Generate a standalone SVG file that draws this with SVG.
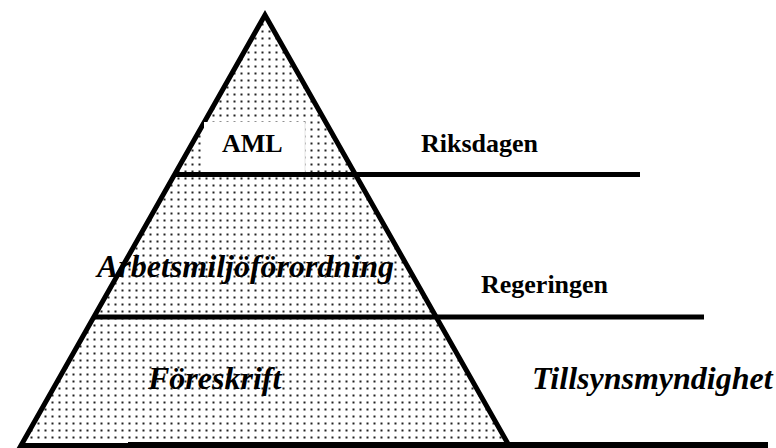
<svg xmlns="http://www.w3.org/2000/svg" width="776" height="448" viewBox="0 0 776 448">
  <defs>
    <pattern id="dots" patternUnits="userSpaceOnUse" width="7" height="7">
      <rect x="2.5" y="2.5" width="2" height="2" fill="#222"/>
    </pattern>
    <style>
      .lbl { font-family: 'Liberation Serif', 'Times New Roman', serif; font-weight: bold; fill: #000; }
      .it { font-style: italic; font-size: 32px; }
      .up { font-size: 26px; }
      .rule { stroke: #000; stroke-width: 5; fill: none; }
    </style>
  </defs>
  <rect width="776" height="448" fill="#fff"/>
  <g id="pyramid">
    <polygon points="265,15 21,445.5 509,445.5" fill="url(#dots)" stroke="#000" stroke-width="5" stroke-linejoin="miter"/>
  </g>
  <g id="aml">
    <rect x="204" y="122" width="101" height="50" fill="#fff"/>
    <line x1="305" y1="122" x2="305" y2="172" stroke="#e4e4e4" stroke-width="1"/>
    <text class="lbl up" x="222" y="152">AML</text>
  </g>
  <g id="connectors">
    <line class="rule" x1="175" y1="174.5" x2="640" y2="174.5"/>
    <line class="rule" x1="95" y1="317" x2="704" y2="317"/>
    <line x1="128" y1="445" x2="768" y2="445" stroke="#000" stroke-width="6"/>
  </g>
  <g id="riksdagen">
    <text class="lbl up" x="421" y="152">Riksdagen</text>
  </g>
  <g id="arbetsmiljoforordning">
    <text class="lbl it" x="97" y="277">Arbetsmiljöförordning</text>
  </g>
  <g id="regeringen">
    <text class="lbl up" x="481" y="293">Regeringen</text>
  </g>
  <g id="foreskrift">
    <text class="lbl it" x="148" y="389">Föreskrift</text>
  </g>
  <g id="tillsynsmyndighet">
    <text class="lbl it" x="532" y="389">Tillsynsmyndighet</text>
  </g>
</svg>
